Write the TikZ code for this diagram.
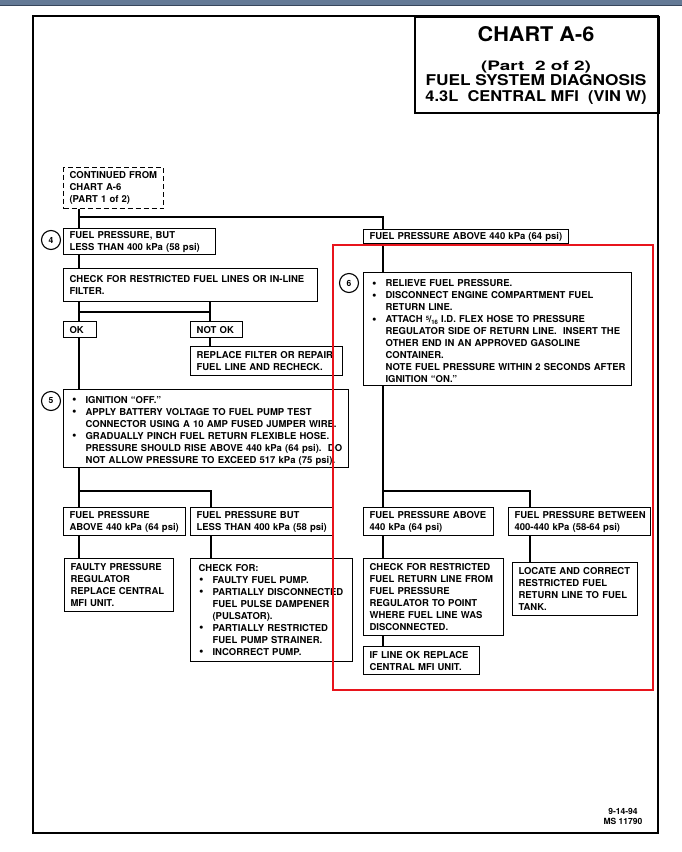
\documentclass[tikz,border=0pt]{standalone}
\usepackage{fontspec}
\setmainfont{TeX Gyre Heros}
\usepackage{graphicx}
\definecolor{redbox}{RGB}{232,20,28}
\definecolor{topbar}{RGB}{100,122,150}
\definecolor{topbardark}{RGB}{55,70,92}
\newcommand{\bitem}[1]{\par\noindent\hangindent=16pt\hangafter=1\makebox[16pt][l]{\hspace{2.5pt}\raisebox{-0.3pt}{\scalebox{1.35}{\textbullet}}}{\let\\\newline #1}\par}
\newcommand{\frc}{\raisebox{2.5pt}{\fontsize{6}{6}\selectfont 5}\kern-0.3pt/\kern-0.3pt\raisebox{-1.5pt}{\fontsize{6}{6}\selectfont 16}}
\begin{document}
\begin{tikzpicture}[x=1pt,y=-1pt,
  bx/.style={draw, line width=1.1pt, anchor=north west, inner xsep=6pt, inner ysep=2pt,
             font=\fontsize{9.5}{12}\selectfont\bfseries, fill=white,
             execute at begin node={\hyphenpenalty=10000\exhyphenpenalty=10000\rightskip=0pt minus 20pt\relax}},
  wh/.style 2 args={text width=#1pt-12pt, minimum height=#2pt},
  conn/.style={line width=2.8pt},
  num/.style={draw, circle, line width=1.1pt, minimum size=19pt, inner sep=0pt, fill=white,
              font=\fontsize{8.5}{8.5}\selectfont\bfseries}]
\useasboundingbox (0,0) rectangle (682,852);
\fill[white] (0,0) rectangle (682,852);
\fill[topbar] (0,0) rectangle (682,5);
\draw[topbardark, line width=1pt] (0,5) -- (682,5);
% page frame
\draw[line width=1.5pt] (33,16) rectangle (658,833);
% title box
\node[draw, line width=1.5pt, anchor=north west, minimum width=244pt, minimum height=96pt, inner sep=0pt] (tbox) at (414,16) {};
\node[anchor=base, inner sep=0pt] (t1) at (536,41) {\resizebox{117pt}{15pt}{\bfseries CHART A-6}};
\node[anchor=base, inner sep=0pt] (t2) at (536,70) {\resizebox{110pt}{9.5pt}{\bfseries (Part\ \ 2 of 2)}};
\node[anchor=base, inner sep=0pt] (t3) at (536,85) {\resizebox{221pt}{11pt}{\bfseries FUEL SYSTEM DIAGNOSIS}};
\node[anchor=base, inner sep=0pt] (t4) at (536,101) {\resizebox{221pt}{11pt}{\bfseries 4.3L\ \ CENTRAL MFI\ \ (VIN W)}};

% boxes, left column
\node[bx, dashed, dash pattern=on 5pt off 3pt, wh={100}{41}] (cont) at (63,167) {CONTINUED FROM\\CHART A-6\\(PART 1 of 2)};
\node[bx, wh={152}{26}] (b4) at (63,228) {FUEL PRESSURE, BUT\\LESS THAN 400 kPa (58 psi)};
\node[bx, wh={254}{33}] (chk1) at (63,268) {CHECK FOR RESTRICTED FUEL LINES OR IN-LINE\\FILTER.};
\node[bx, wh={33}{16}] (ok) at (63,321) {OK};
\node[bx, wh={52}{16}] (notok) at (190,321) {NOT OK};
\node[bx, wh={152}{29}] (repl) at (190,346) {REPLACE FILTER OR REPAIR\\FUEL LINE AND RECHECK.};
\node[bx, wh={285}{77}] (b5) at (63,389) {\bitem{IGNITION “OFF.”}\bitem{APPLY BATTERY VOLTAGE TO FUEL PUMP TEST\\CONNECTOR USING A 10 AMP FUSED JUMPER WIRE.}\bitem{GRADUALLY PINCH FUEL RETURN FLEXIBLE HOSE.\\PRESSURE SHOULD RISE ABOVE 440 kPa (64 psi).\ \ DO\\NOT ALLOW PRESSURE TO EXCEED 517 kPa (75 psi).}};
\node[bx, wh={122}{28}] (hi1) at (63,507) {FUEL PRESSURE\\ABOVE 440 kPa (64 psi)};
\node[bx, wh={143}{28}] (lo1) at (190,507) {FUEL PRESSURE BUT\\LESS THAN 400 kPa (58 psi)};
\node[bx, wh={109}{53}] (faulty) at (64,558) {FAULTY PRESSURE\\REGULATOR\\REPLACE CENTRAL\\MFI UNIT.};
\node[bx, wh={162}{103}] (chkfor) at (190,558) {\hspace{2pt}CHECK FOR:\bitem{FAULTY FUEL PUMP.}\bitem{PARTIALLY DISCONNECTED\\FUEL PULSE DAMPENER\\(PULSATOR).}\bitem{PARTIALLY RESTRICTED\\FUEL PUMP STRAINER.}\bitem{INCORRECT PUMP.}};

% boxes, right column
\node[bx, wh={205}{14}] (above) at (363,229) {FUEL PRESSURE ABOVE 440 kPa (64 psi)};
\node[bx, wh={268}{113}] (b6) at (363,272) {\bitem{RELIEVE FUEL PRESSURE.}\bitem{DISCONNECT ENGINE COMPARTMENT FUEL\\RETURN LINE.}\bitem{ATTACH \frc\ I.D. FLEX HOSE TO PRESSURE\\REGULATOR SIDE OF RETURN LINE.\ \ INSERT THE\\OTHER END IN AN APPROVED GASOLINE\\CONTAINER.\\NOTE FUEL PRESSURE WITHIN 2 SECONDS AFTER\\IGNITION “ON.”}};
\node[bx, wh={130}{28}] (hi2) at (363,507) {FUEL PRESSURE ABOVE\\440 kPa (64 psi)};
\node[bx, wh={142}{28}] (betw) at (508,507) {FUEL PRESSURE BETWEEN\\400-440 kPa (58-64 psi)};
\node[bx, wh={140}{77}] (chk2) at (363,558) {CHECK FOR RESTRICTED\\FUEL RETURN LINE FROM\\FUEL PRESSURE\\REGULATOR TO POINT\\WHERE FUEL LINE WAS\\DISCONNECTED.};
\node[bx, wh={116}{28}] (lineok) at (363,646) {IF LINE OK REPLACE\\CENTRAL MFI UNIT.};
\node[bx, wh={125}{53}] (locate) at (512,562) {LOCATE AND CORRECT\\RESTRICTED FUEL\\RETURN LINE TO FUEL\\TANK.};

% step numbers
\node[num] (c4) at (51,240) {4};
\node[num] (c5) at (51,401) {5};
\node[num] (c6) at (349,283) {6};

% junctions
\coordinate (j1) at (79,217);
\coordinate (j2) at (383,217);
\coordinate (j3) at (79,312);
\coordinate (j4) at (210,312);
\coordinate (j5) at (79,491);
\coordinate (j6) at (211,491);
\coordinate (j7) at (383,491);
\coordinate (j8) at (530,491);

% connectors
\draw[conn] (cont.south -| j1) -- (b4.north -| j1);
\draw[conn] (j1) -- (j2) -- (above.north -| j2);
\draw[conn] (b4.south -| j1) -- (chk1.north -| j1);
\draw[conn] (chk1.south -| j3) -- (ok.north -| j3);
\draw[conn] (chk1.south -| j4) -- (notok.north -| j4);
\draw[conn] (j3) -- (j4);
\draw[conn] (notok.south -| j4) -- (repl.north -| j4);
\draw[conn] (ok.south -| j3) -- (b5.north -| j3);
\draw[conn] (b5.south -| j5) -- (hi1.north -| j5);
\draw[conn] (j5) -- (j6) -- (lo1.north -| j6);
\draw[conn] (hi1.south -| j5) -- (faulty.north -| j5);
\draw[conn] (lo1.south -| j6) -- (chkfor.north -| j6);
\draw[conn] (above.south -| j2) -- (b6.north -| j2);
\draw[conn] (b6.south -| j7) -- (hi2.north -| j7);
\draw[conn] (j7) -- (j8) -- (betw.north -| j8);
\draw[conn] (hi2.south -| j7) -- (chk2.north -| j7);
\draw[conn] (chk2.south -| j7) -- (lineok.north -| j7);
\draw[conn] (betw.south -| j8) -- (locate.north -| j8);

% footer
\node[align=center, inner sep=0pt, font=\fontsize{8.5}{10}\selectfont\bfseries] (foot) at (623,816) {9-14-94\\MS 11790};

% red highlight
\draw[redbox, line width=2pt] (333,245) rectangle (653,690);
\end{tikzpicture}
\end{document}
